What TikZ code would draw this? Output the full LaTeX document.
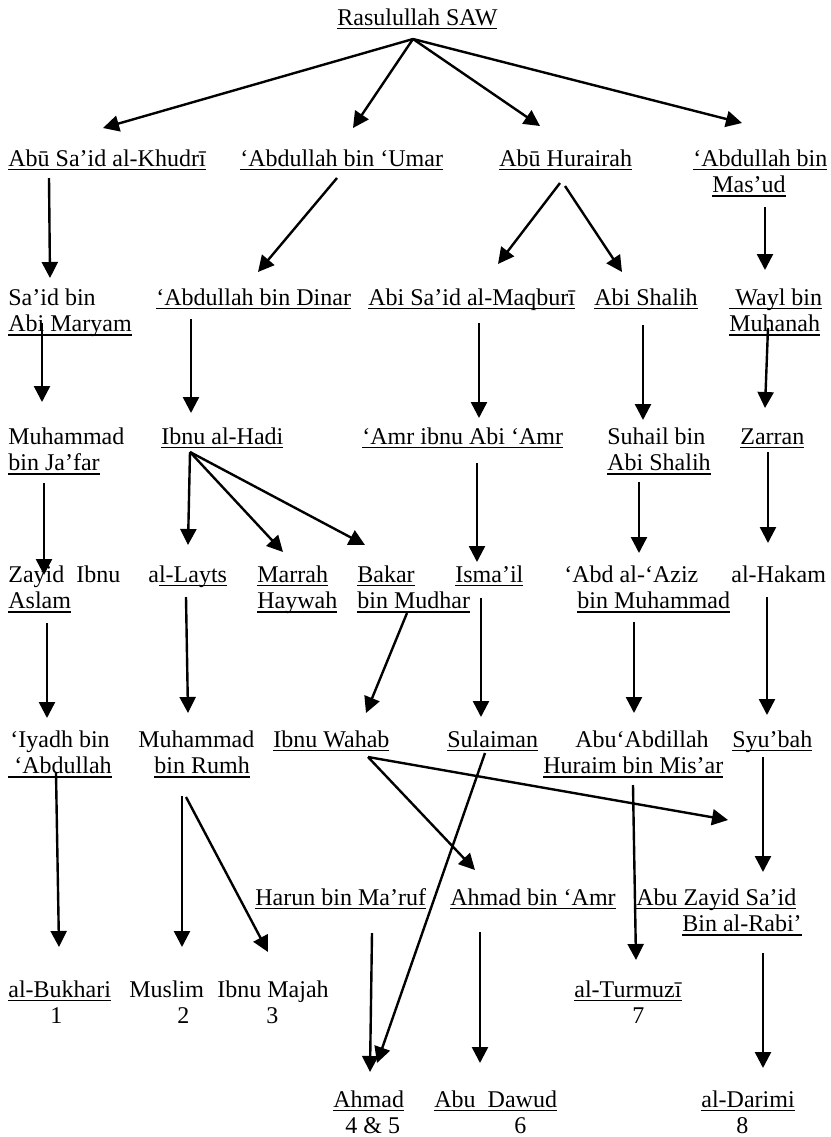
\documentclass[tikz,border=0pt]{standalone}
\usepackage{fontspec}
\setmainfont{Liberation Serif}
\usepackage{tikz}
\usetikzlibrary{positioning}
\usetikzlibrary{arrows.meta}

\newcommand{\undl}[1]{\setbox0\hbox{#1}\rlap{\rule[-2.2pt]{\wd0}{0.7pt}}\box0}
\newcommand{\two}[2]{\begin{tabular}[t]{@{}l@{}}#1\\#2\end{tabular}}

\begin{document}
\begin{tikzpicture}[x=0.5pt,y=-0.5pt,
	every node/.style={inner sep=0pt,anchor=base west,font=\fontsize{12}{13.2}\selectfont},
	arr/.style={-{Triangle[length=8pt,width=8pt]},line width=1.2pt}]
		\useasboundingbox (0,0) rectangle (831,1137);
		\node at (337,25) (ras) {\undl{Rasulullah SAW}};
		
		\node at (8,166) (abu) {\undl{Abū Sa’id al-Khudrī}};
		\node at (240,166) (umar) {\undl{‘Abdullah bin ‘Umar}};
		\node at (499,166) (hur) {\undl{Abū Hurairah}};
		\node at (693,166) (mas) {\two{\undl{‘Abdullah bin}}{\hspace*{9.5pt}\undl{Mas’ud}}};
		\draw [arr] ([xshift=38pt,yshift=-7pt]ras.base west) -- ([xshift=47.5pt,yshift=19pt]abu.base west);
		\draw [arr] ([xshift=38pt,yshift=-7pt]ras.base west) -- ([xshift=56.5pt,yshift=19pt]umar.base west);
		\draw [arr] ([xshift=38pt,yshift=-7pt]ras.base west) -- ([xshift=20.5pt,yshift=20pt]hur.base west);
		\draw [arr] ([xshift=38pt,yshift=-7pt]ras.base west) -- ([xshift=24.5pt,yshift=21.5pt]mas.base west);
		
		\node at (8,305) (sab) {\two{Sa’id bin}{\undl{Abi Maryam}}};
		\node at (156,305) (din) {\undl{‘Abdullah bin Dinar}};
		\node at (368,305) (maq) {\undl{Abi Sa’id al-Maqburī}};
		\node at (594,305) (shl) {\undl{Abi Shalih}};
		\node at (729,305) (way) {\two{\undl{\ Wayl bin}}{\undl{Muhanah}}};
		\draw [arr] ([xshift=20.5pt,yshift=-6pt]abu.base west) -- ([xshift=21pt,yshift=13.5pt]sab.base west);
		\draw [arr] ([xshift=48.5pt,yshift=-6pt]umar.base west) -- ([xshift=51pt,yshift=16.5pt]din.base west);
		\draw [arr] ([xshift=30.5pt,yshift=-8.5pt]hur.base west) -- ([xshift=65pt,yshift=20.5pt]maq.base west);
		\draw [arr] ([xshift=33pt,yshift=-10pt]hur.base west) -- ([xshift=14pt,yshift=16.5pt]shl.base west);
		\draw [arr] ([xshift=36pt,yshift=-20.5pt]mas.base west) -- ([xshift=18pt,yshift=17.5pt]way.base west);
		
		\node at (8,444) (mjf) {\two{Muhammad}{\undl{bin Ja’far}}};
		\node at (161,444) (had) {\undl{Ibnu al-Hadi}};
		\node at (362,444) (amr) {\undl{‘Amr ibnu Abi ‘Amr}};
		\node at (607,444) (suh) {\two{Suhail bin}{\undl{Abi Shalih}}};
		\node at (740,444) (zar) {\undl{Zarran}};
		\draw [arr] ([xshift=17pt,yshift=-9pt]sab.base west) -- ([xshift=17pt,yshift=21pt]mjf.base west);
		\draw [arr] ([xshift=17.5pt,yshift=-7pt]din.base west) -- ([xshift=15pt,yshift=15.5pt]had.base west);
		\draw [arr] ([xshift=55.5pt,yshift=-9pt]maq.base west) -- ([xshift=58.5pt,yshift=13pt]amr.base west);
		\draw [arr] ([xshift=24.5pt,yshift=-10pt]shl.base west) -- ([xshift=18pt,yshift=12pt]suh.base west);
		\draw [arr] ([xshift=19.5pt,yshift=-11.5pt]way.base west) -- ([xshift=12.5pt,yshift=18pt]zar.base west);
		
		\node at (8,582) (zia) {\two{Zayid\ \ Ibnu}{\undl{Aslam}}};
		\node at (148,582) (lay) {a\undl{l-Layts}};
		\node at (257,582) (mar) {\two{\undl{Marrah}}{\undl{Haywah}}};
		\node at (357,582) (mud) {\two{\undl{Bakar}}{\undl{bin Mudhar}}};
		\node at (455,582) (ism) {\undl{Isma’il}};
		\node at (564,582) (azi) {\two{‘Abd al-‘Aziz}{\hspace*{6.5pt}\undl{bin Muhammad}}};
		\node at (731,582) (hak) {al-Hakam};
		\draw [arr] ([xshift=18pt,yshift=-19.5pt]mjf.base west) -- ([xshift=18pt,yshift=3.5pt]zia.base west);
		\draw [arr] ([xshift=14.5pt,yshift=-4pt]had.base west) -- ([xshift=20pt,yshift=18.5pt]lay.base west);
		\draw [arr] ([xshift=14.5pt,yshift=-4pt]had.base west) -- ([xshift=13pt,yshift=15pt]mar.base west);
		\draw [arr] ([xshift=14.5pt,yshift=-4pt]had.base west) -- ([xshift=4pt,yshift=18.5pt]mud.base west);
		\draw [arr] ([xshift=57.5pt,yshift=-9.5pt]amr.base west) -- ([xshift=11pt,yshift=10pt]ism.base west);
		\draw [arr] ([xshift=16pt,yshift=-19pt]suh.base west) -- ([xshift=37.5pt,yshift=14.5pt]azi.base west);
		\draw [arr] ([xshift=14pt,yshift=-4pt]zar.base west) -- ([xshift=18.5pt,yshift=19.5pt]hak.base west);
		
		\node at (8,747) (iya) {\two{\hspace*{1pt}‘Iyadh bin}{\undl{\ ‘Abdullah}}};
		\node at (138,747) (rum) {\two{Muhammad}{\hspace*{8pt}\undl{bin Rumh}}};
		\node at (273,747) (wah) {\undl{Ibnu Wahab}};
		\node at (447,747) (sul) {\undl{Sulaiman}};
		\node at (543,747) (abd) {\two{\hspace*{16pt}Abu‘Abdillah}{\undl{Huraim bin Mis’ar}}};
		\node at (732,747) (syu) {\undl{Syu’bah}};
		\draw [arr] ([xshift=19.5pt,yshift=-20.5pt]zia.base west) -- ([xshift=19.5pt,yshift=14.5pt]iya.base west);
		\draw [arr] ([xshift=19pt,yshift=-7.5pt]lay.base west) -- ([xshift=25pt,yshift=17pt]rum.base west);
		\draw [arr] ([xshift=25pt,yshift=-15.5pt]mud.base west) -- ([xshift=46.5pt,yshift=17pt]wah.base west);
		\draw [arr] ([xshift=13pt,yshift=-8pt]ism.base west) -- ([xshift=17pt,yshift=15pt]sul.base west);
		\draw [arr] ([xshift=35pt,yshift=-20pt]azi.base west) -- ([xshift=45.5pt,yshift=17pt]abd.base west);
		\draw [arr] ([xshift=18pt,yshift=-7.5pt]hak.base west) -- ([xshift=17.5pt,yshift=16pt]syu.base west);
		
		\node at (255,905) (har) {\undl{Harun bin Ma’ruf}};
		\node at (450,905) (ahm) {\undl{Ahmad bin ‘Amr}};
		\node at (636,905) (zay) {\two{\undl{Abu Zayid Sa’id}}{\hspace*{23pt}\undl{Bin al-Rabi’}}};
		\draw [arr] ([xshift=47.5pt,yshift=-5pt]wah.base west) -- ([xshift=46pt,yshift=42.5pt]zay.base west);
		\draw [arr] ([xshift=47.5pt,yshift=-5pt]wah.base west) -- ([xshift=12.5pt,yshift=17.5pt]ahm.base west);
		\draw [arr] ([xshift=15.5pt,yshift=-5pt]syu.base west) -- ([xshift=63.5pt,yshift=16.5pt]zay.base west);
		
		\node at (8,997) (buk) {\two{\undl{al-Bukhari}}{\hspace*{21pt}1}};
		\node at (129,997) (mus) {\two{Muslim}{\hspace*{24pt}2}};
		\node at (217,997) (maj) {\two{Ibnu Majah}{\hspace*{24.5pt}3}};
		\node at (574,997) (tur) {\two{\undl{al-Turmuzī}}{\hspace*{29pt}7}};
		\draw [arr] ([xshift=24pt,yshift=-13pt]iya.base west) -- ([xshift=25.5pt,yshift=25pt]buk.base west);
		\draw [arr] ([xshift=22pt,yshift=-24.5pt]rum.base west) -- ([xshift=26.5pt,yshift=25pt]mus.base west);
		\draw [arr] ([xshift=24pt,yshift=-25pt]rum.base west) -- ([xshift=25.5pt,yshift=22.5pt]maj.base west);
		\draw [arr] ([xshift=45pt,yshift=-19pt]abd.base west) -- ([xshift=31pt,yshift=18.5pt]tur.base west);
		
		\node at (333,1107) (ahd) {\two{\undl{Ahmad}}{\hspace*{6pt}4 \& 5}};
		\node at (434,1107) (daw) {\two{\undl{Abu\ \ Dawud}}{\hspace*{40pt}6}};
		\node at (701,1107) (dar) {\two{\undl{al-Darimi}}{\hspace*{17.5pt}8}};
		\draw [arr] ([xshift=19pt,yshift=-3pt]sul.base west) -- ([xshift=22pt,yshift=22pt]ahd.base west);
		\draw [arr] ([xshift=58.5pt,yshift=-14pt]har.base west) -- ([xshift=18.5pt,yshift=17.5pt]ahd.base west);
		\draw [arr] ([xshift=15pt,yshift=-13.5pt]ahm.base west) -- ([xshift=23pt,yshift=22pt]daw.base west);
		\draw [arr] ([xshift=63.5pt,yshift=-24pt]zay.base west) -- ([xshift=31pt,yshift=19.5pt]dar.base west);
	\end{tikzpicture}
\end{document}
